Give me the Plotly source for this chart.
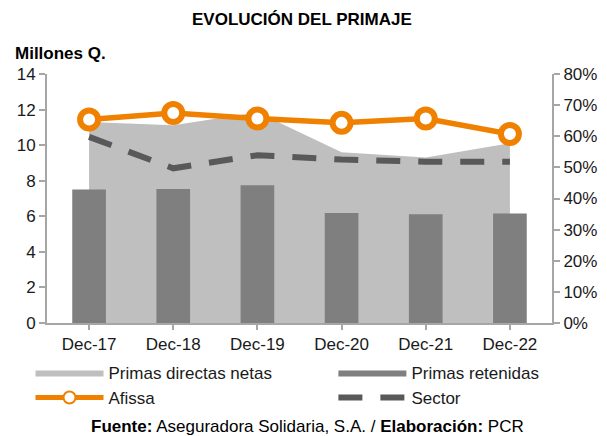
import plotly.graph_objects as go

categories = ["Dec-17", "Dec-18", "Dec-19", "Dec-20", "Dec-21", "Dec-22"]
primas_directas = [11.3, 11.12, 11.85, 9.6, 9.31, 10.1]
primas_retenidas = [7.51, 7.53, 7.75, 6.19, 6.12, 6.16]
afissa = [0.654, 0.675, 0.657, 0.643, 0.657, 0.607]
sector = [0.598, 0.497, 0.539, 0.525, 0.518, 0.518]
left_ticks = [0, 2, 4, 6, 8, 10, 12, 14]
right_ticks = [0, 0.1, 0.2, 0.3, 0.4, 0.5, 0.6, 0.7, 0.8]

FONT = "Liberation Sans, Arial, sans-serif"
W, H = 607, 436
L, R, T, B = 46.5, 55.3, 74, 113.3
pw = W - L - R
ph = H - T - B

def px_x(x):
    return (x - L) / pw

def px_y(y):
    return (T + ph - y) / ph

ORANGE = "#F08000"
DARK = "#595959"
fig = go.Figure()
fig.add_trace(go.Scatter(
    x=categories, y=primas_directas, name="Primas directas netas",
    mode="lines", fill="tozeroy", fillcolor="#BFBFBF",
    line=dict(width=0, color="#BFBFBF"), yaxis="y", legend="legend"))
fig.add_trace(go.Bar(
    x=categories, y=primas_retenidas, name="Primas retenidas",
    marker=dict(color="#7F7F7F", line=dict(width=0)), width=0.4,
    yaxis="y2", showlegend=False))
# legend entry for the bars, drawn as a wide block like the original
fig.add_trace(go.Scatter(
    x=[None], y=[None], name="Primas retenidas", mode="lines",
    fill="tozeroy", fillcolor="#7F7F7F", line=dict(width=0, color="#7F7F7F"),
    yaxis="y2", legend="legend2", hoverinfo="skip"))
fig.add_trace(go.Scatter(
    x=categories, y=afissa, name="Afissa", mode="lines+markers",
    line=dict(color=ORANGE, width=5.5),
    marker=dict(symbol="circle", size=18, color="white",
                line=dict(color=ORANGE, width=6)),
    yaxis="y3", legend="legend"))
fig.add_trace(go.Scatter(
    x=categories, y=sector, name="Sector", mode="lines",
    line=dict(color=DARK, width=6, dash="24px,18px"),
    yaxis="y3", legend="legend2"))

axis_line = "#A6A6A6"
tick_font = dict(family=FONT, size=17, color="#1a1a1a")
leg_common = dict(orientation="v", yanchor="top", itemwidth=68,
                  bgcolor="rgba(0,0,0,0)", traceorder="normal",
                  font=dict(family=FONT, size=17, color="#1a1a1a"),
                  itemclick=False, borderwidth=0)

fig.update_layout(
    width=W, height=H,
    margin=dict(l=L, r=R, t=T, b=B, pad=0, autoexpand=False),
    paper_bgcolor="white", plot_bgcolor="white",
    font=dict(family=FONT, size=17, color="#1a1a1a"),
    showlegend=True,
    hovermode=False,
    xaxis=dict(type="category", range=[-0.5, 5.5], showgrid=False,
               showline=True, linecolor=axis_line, linewidth=2,
               ticks="outside", ticklen=5, tickcolor=axis_line, tickwidth=2,
               tickfont=tick_font),
    yaxis=dict(range=[0, 14], tickvals=left_ticks, showgrid=False,
               zeroline=False, showline=True, linecolor=axis_line, linewidth=2,
               ticks="outside", ticklen=6, tickcolor=axis_line, tickwidth=2,
               tickfont=tick_font),
    yaxis2=dict(range=[0, 14], overlaying="y", visible=False,
                showgrid=False, zeroline=False),
    yaxis3=dict(range=[0, 0.8], tickvals=right_ticks, tickformat=".0%",
                overlaying="y", side="right", showgrid=False, zeroline=False,
                showline=True, linecolor=axis_line, linewidth=2,
                ticks="outside", ticklen=6, tickcolor=axis_line, tickwidth=2,
                tickfont=tick_font),
    legend=dict(x=px_x(30), y=px_y(354.5), xanchor="left",
                itemsizing="constant", **leg_common),
    legend2=dict(x=px_x(333), y=px_y(354.5), xanchor="left", **leg_common),
)

fig.add_annotation(text="<b>EVOLUCIÓN DEL PRIMAJE</b>", xref="paper", yref="paper",
                   x=px_x(302), y=px_y(20), xanchor="center", yanchor="middle",
                   showarrow=False, font=dict(family=FONT, size=17, color="#000000"))
fig.add_annotation(text="<b>Millones Q.</b>", xref="paper", yref="paper",
                   x=px_x(12), y=px_y(54), xanchor="left",
                   yanchor="middle", showarrow=False,
                   font=dict(family=FONT, size=17, color="#000000"))
fig.add_annotation(text="<b>Fuente:</b> Aseguradora Solidaria, S.A. / <b>Elaboración:</b> PCR",
                   xref="paper", yref="paper", x=px_x(307),
                   y=px_y(426.5), xanchor="center",
                   yanchor="middle", showarrow=False,
                   font=dict(family=FONT, size=17, color="#000000"))

fig.write_html("out.html", config={"displayModeBar": False, "staticPlot": True},
               post_script="document.body.style.margin='0px';document.body.style.overflow='hidden';")
